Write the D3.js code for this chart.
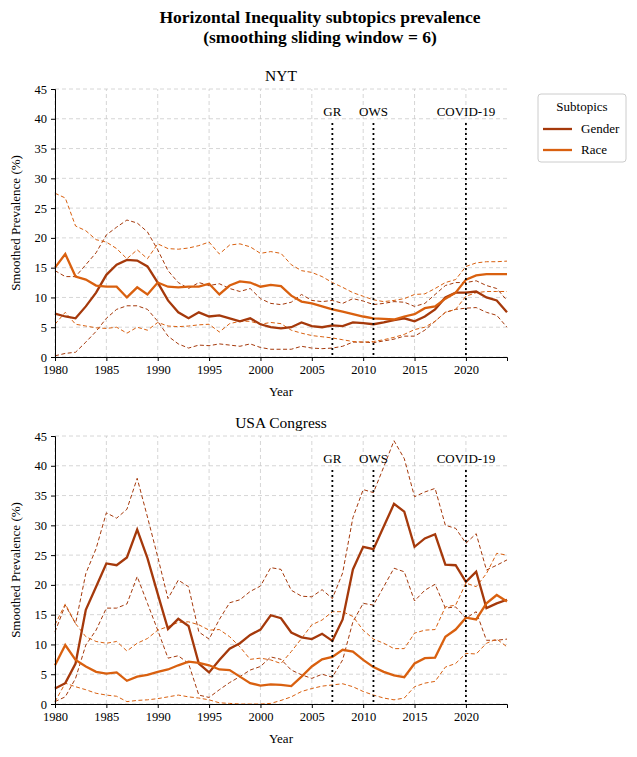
<!DOCTYPE html>
<html><head><meta charset="utf-8">
<script src="https://cdn.jsdelivr.net/npm/d3@7/dist/d3.min.js"></script>
<style>body{margin:0;background:#fff}svg text{font-family:"Liberation Serif","Times New Roman","DejaVu Serif",serif !important}</style>
</head><body><svg id="c" width="637" height="757" font-family="Liberation Serif, serif"></svg>
<script>
const years = d3.range(1980, 2025);
const nytGender = [7.3,6.8,6.5,8.5,10.8,13.8,15.5,16.3,16.2,15.2,12.5,9.5,7.5,6.5,7.5,6.8,7.0,6.5,6.0,6.5,5.5,5.0,4.8,5.0,5.8,5.2,5.0,5.3,5.2,5.8,5.7,5.5,5.8,6.2,6.5,6.0,6.8,8.0,10.0,10.8,10.8,11.0,10.0,9.5,7.5];
const nytGenderHi = [14.5,13.5,13.5,15.5,17.5,20.5,21.8,23.0,22.5,21,18,14.5,12.5,11.5,12.5,12,12.3,11.5,11,11.5,9.8,9.0,8.8,9.2,10.5,9.5,9.3,9.5,9,9.8,9.4,8.8,9.0,9.3,9.2,8.5,9.0,10.5,12.0,12.5,12.5,12.8,12,11.5,9.5];
const nytGenderLo = [0.2,0.6,0.8,2.5,4.3,6.5,8,8.6,8.6,8,6,3.5,2.2,1.5,2.0,1.9,2.2,2.0,1.8,2.2,1.6,1.3,1.3,1.3,1.8,1.5,1.4,1.5,1.8,2.5,2.5,2.4,2.7,3.0,3.5,3.5,4.5,6,7.5,8,8.2,8.3,7.5,7.0,5.0];
const nytRace = [15,17.3,13.5,13,12,11.8,11.8,10,11.7,10.5,12.5,11.8,11.7,11.8,11.8,12.3,10.5,12,12.7,12.5,11.8,12.1,11.9,10.3,9.3,9,8.5,8,7.6,7.2,6.8,6.5,6.4,6.3,6.8,7.2,8.2,8.5,9.8,10.8,13,13.7,13.9,13.9,13.9];
const nytRaceHi = [27.5,26.7,22,21.2,19.7,19.3,18.2,16.5,18,16.5,19,18.2,18.1,18.3,18.7,19.3,17.3,18.8,19,18.5,17.4,17.7,17.4,15.5,14.5,14.2,13.5,12.5,11.7,10.8,10.2,9.6,9.3,9.5,9.8,10.5,10.6,11.5,12.5,13,15.2,15.8,16,16,16.1];
const nytRaceLo = [5.5,7.5,5.5,5.2,4.9,4.8,5.0,4.0,5.0,4.5,5.8,5.2,5.1,5.2,5.4,5.5,4.2,5.6,6.0,6.0,5.5,5.8,5.6,4.5,4.0,3.6,3.4,3.2,2.9,2.6,2.5,2.6,2.9,3.3,3.8,4.6,5.0,6.0,7.5,8.0,10.2,10.8,11,11,11];
const usGender = [2.6,3.5,6.8,15.8,19.7,23.6,23.3,24.6,29.3,24.5,18.5,12.6,14.3,13.1,6.8,5.3,7.4,9.3,10.2,11.6,12.5,14.9,14.4,12,11.2,10.9,11.8,10.6,14.2,22.6,26.4,26,29.8,33.6,32.3,26.4,27.8,28.5,23.4,23.3,20.5,22.2,16.1,16.9,17.5];
const usGenderHi = [12.1,16.6,13.5,21.9,26.1,32.1,31.2,32.7,37.9,31.4,24.7,17.7,20.8,19.7,12.1,10.9,14.2,17,17.5,18.9,19.8,22.9,22.6,19.1,18.1,18,19.2,17.7,22,31.3,36,35.5,39.8,44.2,41.2,34.8,35.6,36.2,30,29.5,27,28.6,22.5,23.3,24.2];
const usGenderLo = [0.4,1.2,4.3,9.9,12.4,16.1,16.1,16.8,21.4,16.9,12.4,7.7,8.1,6.8,1.5,1.1,2.4,3.6,4.6,5.7,6.3,7.9,7.5,5.7,4.9,4.3,5.0,4.5,7.4,13.8,16.9,16.6,19.7,22.8,22.2,17.3,19.1,20.1,16.1,16.3,14.4,15.5,10.7,10.7,10.9];
const usRace = [6.5,9.9,7.4,6.3,5.4,5.1,5.3,3.9,4.6,4.9,5.4,5.8,6.5,7.1,6.9,6.5,5.8,5.7,4.6,3.5,3.1,3.3,3.2,3.0,4.6,6.3,7.5,7.9,9.1,8.8,7.4,6.2,5.4,4.8,4.5,6.8,7.7,7.8,11.3,12.5,14.5,14.2,16.9,18.3,17.2];
const usRaceHi = [13.3,16.8,13.5,11.3,10.5,10.2,10.5,8.9,10.2,11,12.4,13,13.7,13.8,13.3,12.4,12.5,11.3,9.6,7.5,7.7,7.4,6.8,8.8,11,13.3,14.1,15.5,15.5,14.7,12.4,10.9,10.2,9.3,9.3,11.9,12.4,12.5,16.3,16.6,20.3,19.7,21.9,25.3,25];
const usRaceLo = [0.4,3.5,2.9,2.4,1.8,1.5,1.3,0.4,0.6,0.7,0.9,1.2,1.5,1.2,1.0,0.7,0.2,0.1,0,0,0,0.1,0.6,1.2,2.1,2.6,3.0,3.2,3.4,2.9,2.1,1.5,1.0,0.7,1.0,2.9,3.5,3.8,6.2,6.8,8.5,8.4,10.2,10.9,9.6];
const events = [{label:"GR",year:2007},{label:"OWS",year:2011},{label:"COVID-19",year:2020}];
const xTicks = [1980,1985,1990,1995,2000,2005,2010,2015,2020];
const yTicks = d3.range(0,46,5);
const cGender = "#a5390b", cRace = "#d9600f";
const FF = "Liberation Serif, Times New Roman, serif";

const svg = d3.select("#c");
svg.append("text").attr("x",320).attr("y",23).attr("text-anchor","middle").attr("font-size",17.5).attr("font-weight","bold").text("Horizontal Inequality subtopics prevalence");
svg.append("text").attr("x",320).attr("y",43).attr("text-anchor","middle").attr("font-size",17.5).attr("font-weight","bold").text("(smoothing sliding window = 6)");

function panel(top, title, series){
  const x = d3.scaleLinear().domain([1980,2024]).range([55,507]);
  const y = d3.scaleLinear().domain([0,45]).range([top+268, top]);
  const g = svg.append("g");
  g.append("text").attr("x",281).attr("y",top-8).attr("text-anchor","middle").attr("font-size",15.5).text(title);
  g.append("g").selectAll("line").data(xTicks).join("line").attr("x1",d=>x(d)).attr("x2",d=>x(d)).attr("y1",y(0)).attr("y2",y(45)).attr("stroke","#ccc").attr("stroke-dasharray","4,3").attr("stroke-width",0.8);
  g.append("g").selectAll("line").data(yTicks).join("line").attr("x1",x(1980)).attr("x2",x(2024)).attr("y1",d=>y(d)).attr("y2",d=>y(d)).attr("stroke","#ccc").attr("stroke-dasharray","4,3").attr("stroke-width",0.8);
  const line = d3.line().x((d,i)=>x(years[i])).y(d=>y(d));
  series.forEach(s=>{
    g.append("path").datum(s.v).attr("d",line).attr("fill","none").attr("stroke",s.c).attr("stroke-width",s.dash?1:2.3).attr("stroke-dasharray",s.dash?"4,2.5":null);
  });
  events.forEach(e=>{
    g.append("line").attr("x1",x(e.year)).attr("x2",x(e.year)).attr("y1",y(39.3)).attr("y2",y(0)).attr("stroke","#000").attr("stroke-width",1.8).attr("stroke-dasharray","2,3");
    g.append("text").attr("x",x(e.year)).attr("y",y(40.5)).attr("text-anchor","middle").attr("font-size",13).text(e.label);
  });
  const xa = g.append("g").attr("transform",`translate(0,${y(0)})`).call(d3.axisBottom(x).tickValues(xTicks).tickFormat(d3.format("d")).tickSize(4).tickPadding(4));
  const ya = g.append("g").attr("transform",`translate(${x(1980)},0)`).call(d3.axisLeft(y).tickValues(yTicks).tickSize(4).tickPadding(4));
  [xa,ya].forEach(a=>{a.attr("font-family",FF);a.selectAll("text").attr("font-size",12.5).attr("fill","#000");a.select(".domain").attr("stroke","#000");});
  g.append("text").attr("x",281).attr("y",y(0)+39).attr("text-anchor","middle").attr("font-size",13).text("Year");
  g.append("text").attr("transform",`translate(20,${y(22.5)}) rotate(-90)`).attr("text-anchor","middle").attr("font-size",13).text("Smoothed Prevalence (%)");
}
panel(89,"NYT",[
  {v:nytGenderHi,c:cGender,dash:1},{v:nytGenderLo,c:cGender,dash:1},
  {v:nytRaceHi,c:cRace,dash:1},{v:nytRaceLo,c:cRace,dash:1},
  {v:nytGender,c:cGender},{v:nytRace,c:cRace}]);
panel(436,"USA Congress",[
  {v:usGenderHi,c:cGender,dash:1},{v:usGenderLo,c:cGender,dash:1},
  {v:usRaceHi,c:cRace,dash:1},{v:usRaceLo,c:cRace,dash:1},
  {v:usGender,c:cGender},{v:usRace,c:cRace}]);

const lg = svg.append("g");
lg.append("rect").attr("x",538).attr("y",94).attr("width",88).attr("height",68).attr("rx",3).attr("fill","#fff").attr("stroke","#ccc");
lg.append("text").attr("x",582).attr("y",111).attr("text-anchor","middle").attr("font-size",13).text("Subtopics");
[["Gender",cGender],["Race",cRace]].forEach((d,i)=>{
  lg.append("line").attr("x1",543).attr("x2",572).attr("y1",129+i*21).attr("y2",129+i*21).attr("stroke",d[1]).attr("stroke-width",2.3);
  lg.append("text").attr("x",581).attr("y",133+i*21).attr("font-size",13).text(d[0]);
});
</script></body></html>
